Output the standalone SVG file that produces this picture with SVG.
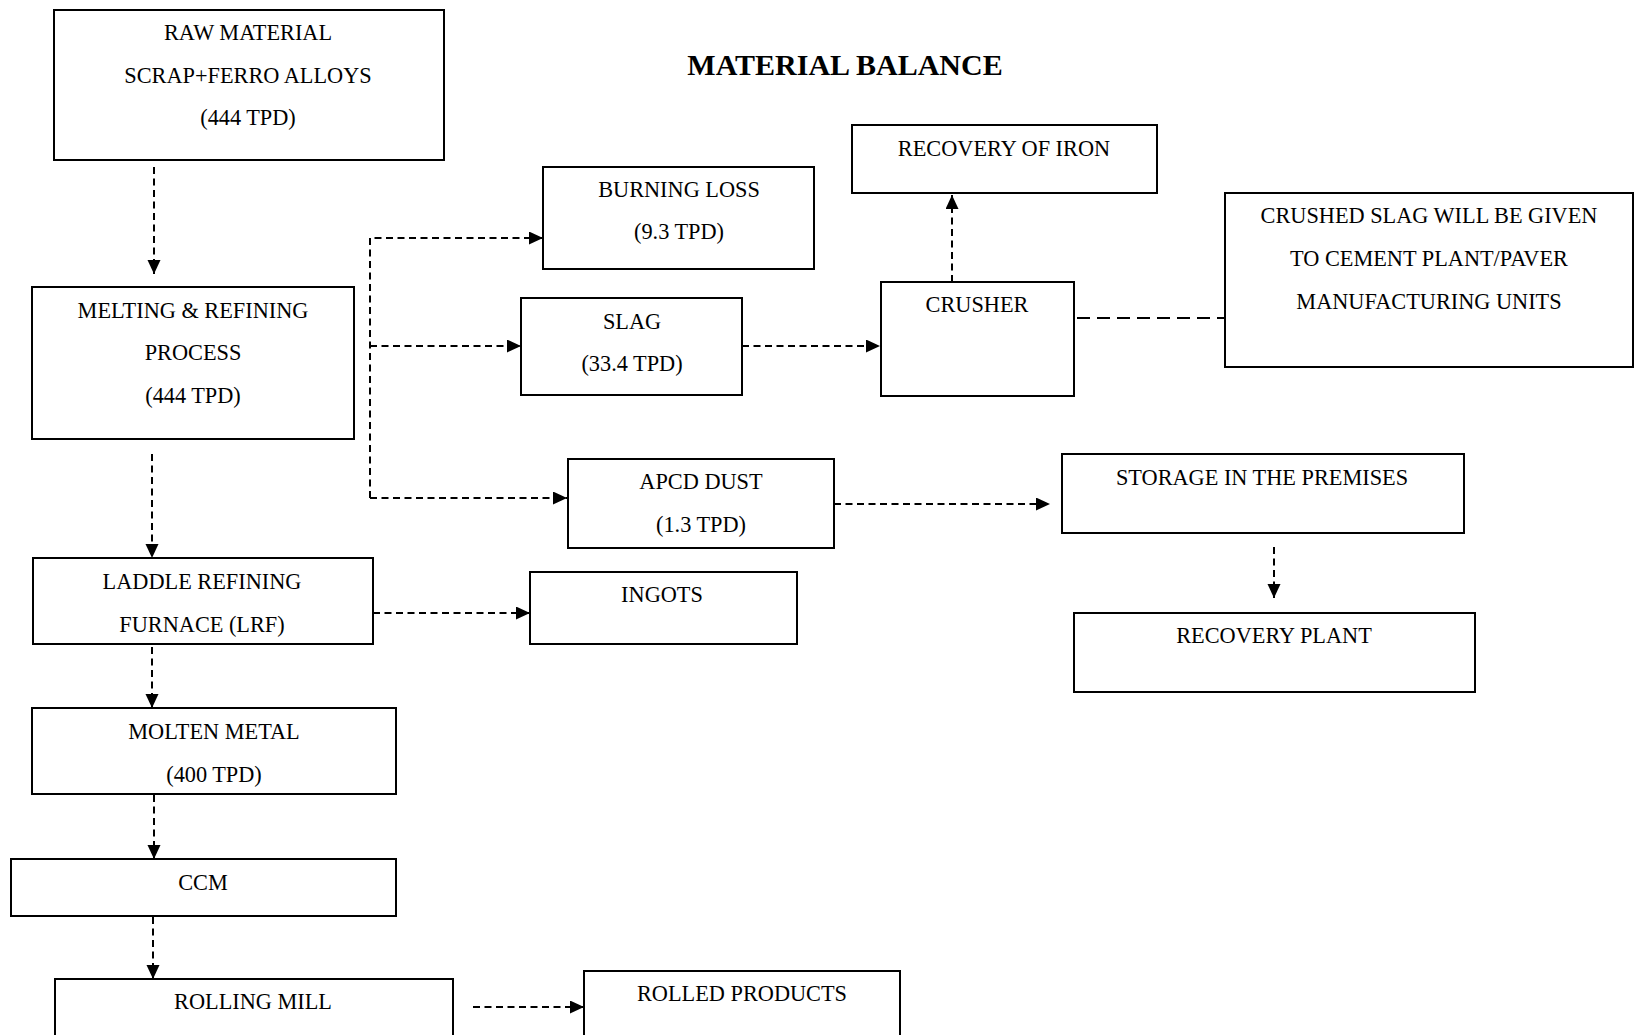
<svg xmlns="http://www.w3.org/2000/svg" width="1635" height="1035" viewBox="0 0 1635 1035">
<style>
.box{fill:#fff;stroke:#000;stroke-width:2}
.t{font-family:"Liberation Serif","Times New Roman",serif;font-size:22.3px;fill:#000;text-anchor:middle}
.title{font-family:"Liberation Serif","Times New Roman",serif;font-size:30px;font-weight:bold;fill:#000;text-anchor:middle}
.c{fill:none;stroke:#000;stroke-width:2;stroke-dasharray:7 4.5}
.cl{fill:none;stroke:#000;stroke-width:2;stroke-dasharray:13 7}
</style>
<defs>
<marker id="ah" markerUnits="userSpaceOnUse" markerWidth="14" markerHeight="14" refX="14" refY="6.5" orient="auto">
<path d="M0,0 L14,6.5 L0,13 z" fill="#000"/>
</marker>
</defs>
<rect width="1635" height="1035" fill="#fff"/>
<text class="title" x="845" y="75">MATERIAL BALANCE</text>

<g id="connectors">
<path class="c" d="M154,167 V274" marker-end="url(#ah)"/>
<path class="c" d="M370,498 V238 H543" marker-end="url(#ah)"/>
<path class="c" d="M370,346 H521" marker-end="url(#ah)"/>
<path class="c" d="M370,498 H567" marker-end="url(#ah)"/>
<path class="c" d="M742,346 H880" marker-end="url(#ah)"/>
<path class="c" d="M952,282 V195" marker-end="url(#ah)"/>
<path class="cl" d="M1077,318 H1225"/>
<path class="c" d="M834,504 H1050" marker-end="url(#ah)"/>
<path class="c" d="M1274,547 V598" marker-end="url(#ah)"/>
<path class="c" d="M152,454 V558" marker-end="url(#ah)"/>
<path class="c" d="M373,613 H530" marker-end="url(#ah)"/>
<path class="c" d="M152,647 V708" marker-end="url(#ah)"/>
<path class="c" d="M154,795 V859" marker-end="url(#ah)"/>
<path class="c" d="M153,917 V979" marker-end="url(#ah)"/>
<path class="c" d="M473,1007 H584" marker-end="url(#ah)"/>
</g>

<g id="raw-material">
<rect class="box" x="54" y="10" width="390" height="150"/>
<text class="t" x="248" y="40">RAW MATERIAL</text>
<text class="t" x="248" y="82.5">SCRAP+FERRO ALLOYS</text>
<text class="t" x="248" y="125">(444 TPD)</text>
</g>
<g id="melting">
<rect class="box" x="32" y="287" width="322" height="152"/>
<text class="t" x="193" y="318">MELTING &amp; REFINING</text>
<text class="t" x="193" y="360">PROCESS</text>
<text class="t" x="193" y="403">(444 TPD)</text>
</g>
<g id="burning-loss">
<rect class="box" x="543" y="167" width="271" height="102"/>
<text class="t" x="679" y="197">BURNING LOSS</text>
<text class="t" x="679" y="239">(9.3 TPD)</text>
</g>
<g id="slag">
<rect class="box" x="521" y="298" width="221" height="97"/>
<text class="t" x="632" y="329">SLAG</text>
<text class="t" x="632" y="371">(33.4 TPD)</text>
</g>
<g id="apcd-dust">
<rect class="box" x="568" y="459" width="266" height="89"/>
<text class="t" x="701" y="489">APCD DUST</text>
<text class="t" x="701" y="532">(1.3 TPD)</text>
</g>
<g id="recovery-iron">
<rect class="box" x="852" y="125" width="305" height="68"/>
<text class="t" x="1004" y="156">RECOVERY OF IRON</text>
</g>
<g id="crusher">
<rect class="box" x="881" y="282" width="193" height="114"/>
<text class="t" x="977" y="312">CRUSHER</text>
</g>
<g id="crushed-slag">
<rect class="box" x="1225" y="193" width="408" height="174"/>
<text class="t" x="1429" y="223">CRUSHED SLAG WILL BE GIVEN</text>
<text class="t" x="1429" y="266">TO CEMENT PLANT/PAVER</text>
<text class="t" x="1429" y="309">MANUFACTURING UNITS</text>
</g>
<g id="storage">
<rect class="box" x="1062" y="454" width="402" height="79"/>
<text class="t" x="1262" y="485">STORAGE IN THE PREMISES</text>
</g>
<g id="recovery-plant">
<rect class="box" x="1074" y="613" width="401" height="79"/>
<text class="t" x="1274" y="643">RECOVERY PLANT</text>
</g>
<g id="lrf">
<rect class="box" x="33" y="558" width="340" height="86"/>
<text class="t" x="202" y="589">LADDLE REFINING</text>
<text class="t" x="202" y="632">FURNACE (LRF)</text>
</g>
<g id="ingots">
<rect class="box" x="530" y="572" width="267" height="72"/>
<text class="t" x="662" y="602">INGOTS</text>
</g>
<g id="molten-metal">
<rect class="box" x="32" y="708" width="364" height="86"/>
<text class="t" x="214" y="739">MOLTEN METAL</text>
<text class="t" x="214" y="782">(400 TPD)</text>
</g>
<g id="ccm">
<rect class="box" x="11" y="859" width="385" height="57"/>
<text class="t" x="203" y="890">CCM</text>
</g>
<g id="rolling-mill">
<rect class="box" x="55" y="979" width="398" height="70"/>
<text class="t" x="253" y="1009">ROLLING MILL</text>
</g>
<g id="rolled-products">
<rect class="box" x="584" y="971" width="316" height="80"/>
<text class="t" x="742" y="1001">ROLLED PRODUCTS</text>
</g>
</svg>
